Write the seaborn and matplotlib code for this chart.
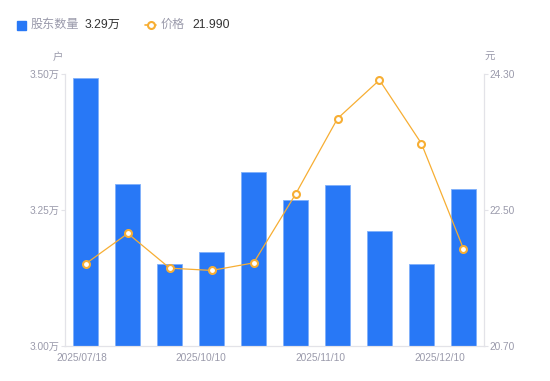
import numpy as np
import pandas as pd
import matplotlib
matplotlib.use("Agg")
import matplotlib.pyplot as plt
from matplotlib.patches import Rectangle
from matplotlib.lines import Line2D
import seaborn as sns

# data
dates = ["2025/07/18", "2025/08/20", "2025/09/10", "2025/10/10", "2025/10/20",
         "2025/10/31", "2025/11/10", "2025/11/20", "2025/11/28", "2025/12/10"]
holders = [3.492, 3.298, 3.151, 3.173, 3.319, 3.268, 3.296, 3.211, 3.151, 3.289]  # 万户
price = [21.79, 22.19, 21.73, 21.70, 21.80, 22.71, 23.71, 24.22, 23.38, 21.99]
tick_labels = ["2025/07/18", "2025/10/10", "2025/11/10", "2025/12/10"]
left_ticks = [3.00, 3.25, 3.50]
right_ticks = [20.70, 22.50, 24.30]

df = pd.DataFrame({"date": dates, "holders": holders, "price": price})

blue = "#2878F6"
orange = "#F7AE33"
gray = "#9a9aab"
dark = "#333333"
axis_c = "#e3e3e8"

sns.set_style("white")
plt.rcParams["font.family"] = ["Liberation Sans", "Noto Sans CJK SC", "DejaVu Sans"]

fig = plt.figure(figsize=(5.5, 3.81), dpi=100)
ax = fig.add_axes([0.118, 0.0919, 0.7626, 0.7139])
sns.barplot(data=df, x="date", y="holders", ax=ax, color=blue, width=0.6,
            edgecolor="#7fb0fa", linewidth=0.6, saturation=1)
ax.set_ylim(3.0, 3.5)
ax.set_xlim(-0.5, 9.5)
ax.set_xlabel("")
ax.set_ylabel("")
ax.set_yticks(left_ticks)
ax.set_yticklabels(["{:.2f}万".format(v) for v in left_ticks])
ax.set_xticks(np.linspace(-0.1, 8.44, 4))
ax.set_xticklabels(tick_labels)
ax.tick_params(axis="x", length=0, pad=5, labelsize=7.3, labelcolor=gray)
ax.tick_params(axis="y", length=3, color=axis_c, pad=1, labelsize=7.3, labelcolor=gray)

ax2 = ax.twinx()
sns.lineplot(x=np.arange(len(price)), y=price, ax=ax2, color=orange, linewidth=0.9,
             marker="o", markersize=5, markerfacecolor="white",
             markeredgecolor=orange, markeredgewidth=1.5)
ax2.set_ylim(20.7, 24.3)
ax2.set_yticks(right_ticks)
ax2.set_yticklabels(["{:.2f}".format(v) for v in right_ticks])
ax2.tick_params(axis="y", length=3, color=axis_c, pad=1, labelsize=7.3, labelcolor=gray)
ax2.set_ylabel("")

for a in (ax, ax2):
    a.spines["top"].set_visible(False)
    for s in ("left", "right", "bottom"):
        a.spines[s].set_color(axis_c)
        a.spines[s].set_linewidth(0.8)
    a.grid(False)

# unit labels
fig.text(58 / 550, 1 - 57 / 381, "户", color=gray, fontsize=7.5, ha="center", va="center")
fig.text(490 / 550, 1 - 57 / 381, "元", color=gray, fontsize=7.5, ha="center", va="center")

# legend at the top
ly = 1 - 24.5 / 381
fig.add_artist(Rectangle((16.5 / 550, 1 - 29.5 / 381), 9 / 550, 9 / 381,
                         transform=fig.transFigure, color=blue))
fig.text(31 / 550, ly, "股东数量", color=gray, fontsize=8.7, va="center")
fig.text(85 / 550, ly, "{:.2f}万".format(holders[-1]), color=dark, fontsize=8.7, va="center")
fig.add_artist(Line2D([145 / 550, 156 / 550], [ly, ly], transform=fig.transFigure,
                      color=orange, linewidth=1.2))
fig.add_artist(Line2D([150.5 / 550], [ly], transform=fig.transFigure, marker="o",
                      markersize=5, markerfacecolor="white", markeredgecolor=orange,
                      markeredgewidth=1.5))
fig.text(161 / 550, ly, "价格", color=gray, fontsize=8.7, va="center")
fig.text(192 / 550, ly, "{:.3f}".format(price[-1]), color=dark, fontsize=8.7, va="center")

plt.savefig("out.png", dpi=100)
